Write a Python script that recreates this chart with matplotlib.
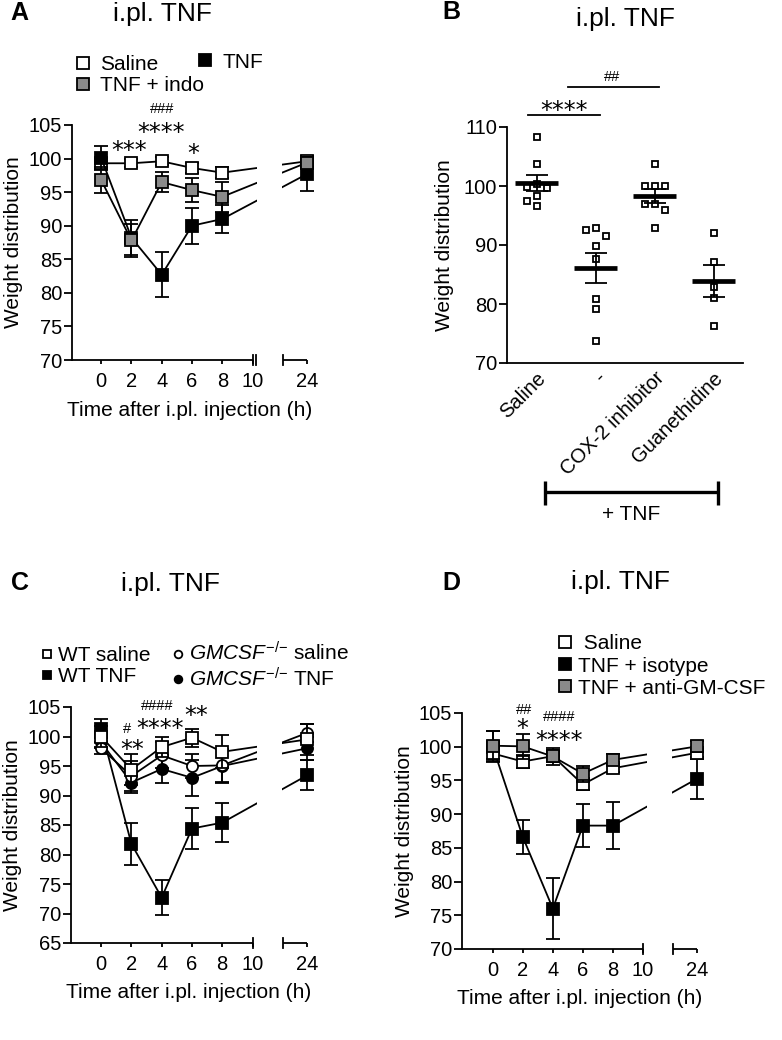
import numpy as np
import matplotlib
matplotlib.use("Agg")
import matplotlib.pyplot as plt
import matplotlib.transforms as mtransforms
from matplotlib.lines import Line2D

plt.rcParams['font.family'] = ['Liberation Sans', 'DejaVu Sans']
plt.rcParams['mathtext.fontset'] = 'custom'
plt.rcParams['mathtext.rm'] = 'Liberation Sans'
plt.rcParams['mathtext.it'] = 'Liberation Sans:italic'

# ------------------------------------------------------------------ data
time_h = [0, 2, 4, 6, 8, 24]
x_ticks = [0, 2, 4, 6, 8, 10, 24]

# Panel A
a_saline = [99.3, 99.3, 99.6, 98.6, 97.9, 99.6]
a_saline_err = [0.8, 0.6, 0.6, 0.8, 0.8, 0.8]
a_tnf = [100.1, 88.2, 82.7, 90.0, 91.0, 97.7]
a_tnf_err = [1.8, 2.6, 3.35, 2.65, 2.1, 2.5]
a_indo = [96.8, 87.8, 96.5, 95.3, 94.3, 99.4]
a_indo_err = [1.9, 2.5, 1.5, 1.8, 2.2, 0.8]
a_marks = [('***', 1.87, 102.0, 'star'), ('****', 3.93, 104.7, 'star'),
           ('*', 6.1, 101.6, 'star'), ('###', 4.05, 107.5, 'hash')]

# Panel B
b_groups = ['Saline', '-', 'COX-2 inhibitor', 'Guanethidine']
b_saline = [108.3, 103.7, 100.4, 99.9, 99.7, 98.3, 97.5, 96.6]
b_tnf = [92.8, 92.6, 91.5, 89.9, 87.6, 80.9, 79.2, 73.8]
b_cox2 = [103.7, 100.0, 100.0, 100.0, 97.0, 97.0, 95.9, 92.9]
b_guan = [92.1, 87.2, 82.9, 81.1, 76.3]
b_values = [b_saline, b_tnf, b_cox2, b_guan]
b_sig = [('****', 0, 1, 112.1), ('##', 0.53, 2.08, 116.8)]

# Panel C
c_wt_saline = [100.0, 94.4, 98.2, 99.8, 97.4, 99.5]
c_wt_saline_err = [1.8, 2.7, 1.7, 1.5, 2.8, 2.7]
c_ko_saline = [98.0, 93.3, 96.8, 95.0, 95.1, 100.6]
c_ko_saline_err = [1.0, 2.5, 2.2, 2.0, 2.8, 1.6]
c_wt_tnf = [101.3, 81.8, 72.7, 84.4, 85.4, 93.4]
c_wt_tnf_err = [1.6, 3.5, 2.9, 3.45, 3.3, 2.55]
c_ko_tnf = [99.0, 92.2, 94.5, 93.0, 95.0, 98.0]
c_ko_tnf_err = [1.0, 1.8, 2.4, 3.0, 2.9, 1.9]
c_marks = [('**', 2.05, 98.7, 'star'), ('#', 1.7, 101.4, 'hash'),
           ('****', 3.87, 102.4, 'star'), ('####', 3.7, 105.3, 'hash'),
           ('**', 6.27, 104.6, 'star')]

# Panel D
d_saline = [99.0, 97.8, 98.6, 94.4, 96.8, 99.1]
d_saline_err = [0.8, 1.0, 0.8, 0.8, 0.6, 0.6]
d_iso = [100.0, 86.6, 76.0, 88.3, 88.3, 95.25]
d_iso_err = [2.3, 2.5, 4.5, 3.15, 3.45, 3.0]
d_gm = [100.15, 100.05, 98.55, 96.0, 98.05, 100.05]
d_gm_err = [2.2, 1.8, 1.3, 1.2, 0.8, 0.8]
d_marks = [('##', 2.05, 105.6, 'hash'), ('*', 1.95, 103.6, 'star'),
           ('####', 4.45, 104.5, 'hash'), ('****', 4.4, 101.7, 'star')]

# ------------------------------------------------------------------ layout
W, H = 782, 1040
DPI = 100
fig = plt.figure(figsize=(W / DPI, H / DPI), dpi=DPI)

GRAY = '#8a8a8a'
LW = 1.3
TICK_FS = 14.5
LAB_FS = 15
TITLE_FS = 19
LETTER_FS = 18
STAR_FS = 17
HASH_FS = 10.5

# broken x axis: 0-10 then compressed 22.4-24
BRK_REAL = [-50.0, 10.4, 22.4, 60.0]
BRK_SCALED = [-50.0, 10.4, 12.0, 49.6]


def fwd(x):
    return np.interp(x, BRK_REAL, BRK_SCALED)


def inv(s):
    return np.interp(s, BRK_SCALED, BRK_REAL)


def px_rect(l, t, r, b):
    return [l / W, 1 - b / H, (r - l) / W, (b - t) / H]


def fxy(x, y):
    return x / W, 1 - y / H


def fig_text(x, y, s, **kw):
    fig.text(x / W, 1 - y / H, s, **kw)


def style_y(ax, ticks):
    ax.set_yticks(ticks)
    ax.tick_params(axis='y', direction='out', length=5.5, width=LW, pad=1.5,
                   labelsize=TICK_FS)
    ax.spines['left'].set_linewidth(LW)
    for s in ('top', 'right'):
        ax.spines[s].set_visible(False)


def time_axes(rect, ylim, yticks, xleft, double_break=False):
    ax = fig.add_axes(px_rect(*rect))
    ax.set_xscale('function', functions=(fwd, inv))
    style_y(ax, yticks)
    ax.spines['bottom'].set_visible(False)
    ax.set_xticks(x_ticks)
    ax.set_xticklabels([str(t) for t in x_ticks])
    ax.tick_params(axis='x', direction='out', length=3, width=LW, pad=5.5,
                   labelsize=TICK_FS)
    tr = ax.get_xaxis_transform()
    hh = 5.0 / (rect[3] - rect[1])
    ax.plot([xleft, 10], [0, 0], transform=tr, color='k', lw=LW,
            clip_on=False, solid_capstyle='butt', zorder=11)
    ax.plot([22.4, 24], [0, 0], transform=tr, color='k', lw=LW,
            clip_on=False, solid_capstyle='butt', zorder=11)
    bars = [10, 22.4] + ([10.2] if double_break else [])
    for xb in bars:
        ax.plot([xb, xb], [-hh, hh], transform=tr, color='k', lw=LW,
                clip_on=False, zorder=11)
    # gap in the data lines across the axis break
    ax.axvspan(10.3, 21.9, color='white', lw=0, zorder=10)
    ax.set_xlim(xleft, 24)
    ax.set_ylim(*ylim)
    return ax


def series(ax, y, err, marker, face, z, ms=8):
    eb = ax.errorbar(time_h, y, yerr=err, fmt='none', ecolor='k',
                     elinewidth=LW, capsize=5, capthick=LW, zorder=z)
    for art in eb.lines[1] + eb.lines[2]:
        art.set_clip_on(False)
    ax.plot(time_h, y, color='k', lw=LW, marker=marker, ms=ms, mfc=face,
            mec='k', mew=LW, zorder=z + 0.05, clip_on=False)


def marks(ax, items):
    for s, x, y, kind in items:
        if kind == 'star':
            ax.annotate(s, (x, y), xytext=(0, -0.56 * STAR_FS),
                        textcoords='offset points', ha='center',
                        va='baseline', fontsize=STAR_FS,
                        family='DejaVu Sans', annotation_clip=False,
                        zorder=12)
        else:
            ax.annotate(s, (x, y), xytext=(0, -0.34 * HASH_FS),
                        textcoords='offset points', ha='center',
                        va='baseline', fontsize=HASH_FS,
                        annotation_clip=False, zorder=12)


def labels(ax, rect, ylab_cx, xlab_cy=None):
    l, t, r, b = rect
    ax.set_ylabel('Weight distribution', fontsize=LAB_FS, va='center')
    ax.yaxis.set_label_coords((ylab_cx - l) / (r - l), 0.5)
    if xlab_cy is not None:
        ax.set_xlabel('Time after i.pl. injection (h)', fontsize=LAB_FS,
                      va='center')
        ax.xaxis.set_label_coords(0.5, (b - xlab_cy) / (b - t))


def legend(entries, marker_x, rows_y, ms, hl=0.8, pad=0.2, ls=0.12):
    fs_px = LAB_FS * DPI / 72
    handles = [Line2D([], [], ls='none', marker=m, ms=ms, mfc=fc, mec='k',
                      mew=LW) for m, fc, _ in entries]
    labs = [lab for _, _, lab in entries]
    left = marker_x - hl * fs_px / 2
    cy = (rows_y[0] + rows_y[-1]) / 2
    fig.legend(handles, labs, loc='center left', bbox_to_anchor=fxy(left, cy),
               bbox_transform=fig.transFigure, frameon=False, borderpad=0,
               borderaxespad=0, handlelength=hl, handletextpad=pad,
               labelspacing=ls, fontsize=LAB_FS, handleheight=0.7)


# ------------------------------------------------------------------ panel A
rectA = (72, 125, 307, 360)
axA = time_axes(rectA, (70, 105), np.arange(70, 106, 5), -1.93,
                double_break=True)
series(axA, a_saline, a_saline_err, 's', 'white', 2.0)
series(axA, a_tnf, a_tnf_err, 's', 'black', 2.1)
series(axA, a_indo, a_indo_err, 's', GRAY, 2.2)
marks(axA, a_marks)
labels(axA, rectA, 14, 410)
legend([('s', 'white', 'Saline'), ('s', GRAY, 'TNF + indo')], 83, [62, 88], 8.5,
       hl=1.0, pad=0.32, ls=0.1)
legend([('s', 'black', 'TNF')], 205, [62], 8.5, hl=1.0, pad=0.32)
fig_text(19, 20, 'A', fontsize=LETTER_FS, fontweight='bold', ha='center',
         va='baseline')
fig_text(162, 21, 'i.pl. TNF', fontsize=TITLE_FS, ha='center', va='baseline')

# ------------------------------------------------------------------ panel B
rectB = (507, 127, 743, 363)
axB = fig.add_axes(px_rect(*rectB))
style_y(axB, np.arange(70, 111, 10))
axB.spines['bottom'].set_linewidth(LW)
cats = np.arange(len(b_groups))
axB.set_xlim(-0.5, len(b_groups) - 0.5)
axB.set_ylim(70, 110)
axB.set_xticks(cats)
axB.set_xticklabels(b_groups, rotation=45, ha='right', va='top',
                    rotation_mode='anchor', fontsize=TICK_FS)
axB.tick_params(axis='x', length=0, pad=4)

px_per_cat = (rectB[2] - rectB[0]) / len(b_groups)
px_per_y = (rectB[3] - rectB[1]) / 40.0


def swarm(vals, d_px=10.0):
    vals = np.asarray(vals, float)
    offs = np.zeros(len(vals))
    placed = []
    for i in np.argsort(vals)[::-1]:
        yv = vals[i] * px_per_y
        for k in [0, -1, 1, -2, 2, -3, 3, -4, 4]:
            xo = k * d_px / 2
            if all((xo - px) ** 2 + (yv - py) ** 2 >= d_px ** 2
                   for px, py in placed):
                break
        placed.append((xo, yv))
        offs[i] = xo / px_per_cat
    return offs


for c, vals in zip(cats, b_values):
    v = np.asarray(vals, float)
    axB.plot(c + swarm(v), v, ls='none', marker='s', ms=4.8, mfc='white',
             mec='k', mew=1.3, zorder=2)
    mean = v.mean()
    sem = v.std(ddof=1) / np.sqrt(len(v))
    axB.hlines(mean, c - 0.36, c + 0.36, color='k', lw=3.4, zorder=3)
    axB.errorbar([c], [mean], yerr=[sem], fmt='none', ecolor='k',
                 elinewidth=LW, capsize=8, capthick=LW, zorder=3)

sig_left = [-0.15, 0.53]
sig_right = [1.07, 2.08]
for (s, c1, c2, yv), xl, xr in zip(b_sig, sig_left, sig_right):
    axB.plot([xl, xr], [yv, yv], color='k', lw=LW, clip_on=False)
    if s.startswith('*'):
        axB.annotate(s, ((xl + xr) / 2, yv + 1.7), xytext=(0, -0.56 * STAR_FS),
                     textcoords='offset points', ha='center', va='baseline',
                     fontsize=STAR_FS, family='DejaVu Sans',
                     annotation_clip=False)
    else:
        axB.annotate(s, ((xl + xr) / 2 - 0.02, yv + 1.8),
                     xytext=(0, -0.34 * HASH_FS), textcoords='offset points',
                     ha='center', va='baseline', fontsize=HASH_FS,
                     annotation_clip=False)

axB.set_ylabel('Weight distribution', fontsize=LAB_FS, va='center')
axB.yaxis.set_label_coords((445 - rectB[0]) / (rectB[2] - rectB[0]), 0.5)

trB = mtransforms.blended_transform_factory(axB.transData, fig.transFigure)
bx0, bx1 = 0.14, 3.08
by = 1 - 492 / H
axB.plot([bx0, bx1], [by, by], transform=trB, color='k', lw=2.4,
         clip_on=False, solid_capstyle='butt')
for xb in (bx0, bx1):
    axB.plot([xb, xb], [1 - 481 / H, 1 - 505 / H], transform=trB, color='k',
             lw=2.4, clip_on=False, solid_capstyle='butt')
axB.text((bx0 + bx1) / 2, 1 - 514 / H, '+ TNF', transform=trB, ha='center',
         va='center', fontsize=LAB_FS)

fig_text(451, 19, 'B', fontsize=LETTER_FS, fontweight='bold', ha='center',
         va='baseline')
fig_text(625, 26, 'i.pl. TNF', fontsize=TITLE_FS, ha='center', va='baseline')

# ------------------------------------------------------------------ panel C
rectC = (71, 707, 307, 943)
axC = time_axes(rectC, (65, 105), np.arange(65, 106, 5), -1.99)
series(axC, c_wt_tnf, c_wt_tnf_err, 's', 'black', 2.0)
series(axC, c_ko_tnf, c_ko_tnf_err, 'o', 'black', 2.1)
series(axC, c_ko_saline, c_ko_saline_err, 'o', 'white', 2.2)
series(axC, c_wt_saline, c_wt_saline_err, 's', 'white', 2.3)
marks(axC, c_marks)
labels(axC, rectC, 13, 993)
legend([('s', 'white', 'WT saline'), ('s', 'black', 'WT TNF')], 47, [653, 679],
       5.5, hl=0.8, pad=0.14, ls=0.1)
legend([('o', 'white', r'$\mathit{GMCSF}^{-/{-}}$ saline'),
        ('o', 'black', r'$\mathit{GMCSF}^{-/{-}}$ TNF')], 178, [653, 679],
       5.5, hl=0.8, pad=0.14, ls=0.1)
fig_text(20, 590, 'C', fontsize=LETTER_FS, fontweight='bold', ha='center',
         va='baseline')
fig_text(170, 591, 'i.pl. TNF', fontsize=TITLE_FS, ha='center', va='baseline')

# ------------------------------------------------------------------ panel D
rectD = (462, 713, 697, 949)
axD = time_axes(rectD, (70, 105), np.arange(70, 106, 5), -2.05)
series(axD, d_iso, d_iso_err, 's', 'black', 2.0, ms=8.5)
series(axD, d_saline, d_saline_err, 's', 'white', 2.1, ms=8.5)
series(axD, d_gm, d_gm_err, 's', GRAY, 2.2, ms=8.5)
marks(axD, d_marks)
labels(axD, rectD, 405, 999)
legend([('s', 'white', ' Saline'), ('s', 'black', 'TNF + isotype'),
        ('s', GRAY, 'TNF + anti-GM-CSF')], 565, [639, 666, 693], 8.5,
       hl=0.8, pad=0.23, ls=0.15)
fig_text(451, 590, 'D', fontsize=LETTER_FS, fontweight='bold', ha='center',
         va='baseline')
fig_text(620, 589, 'i.pl. TNF', fontsize=TITLE_FS, ha='center', va='baseline')

fig.savefig('out.png', dpi=DPI)
